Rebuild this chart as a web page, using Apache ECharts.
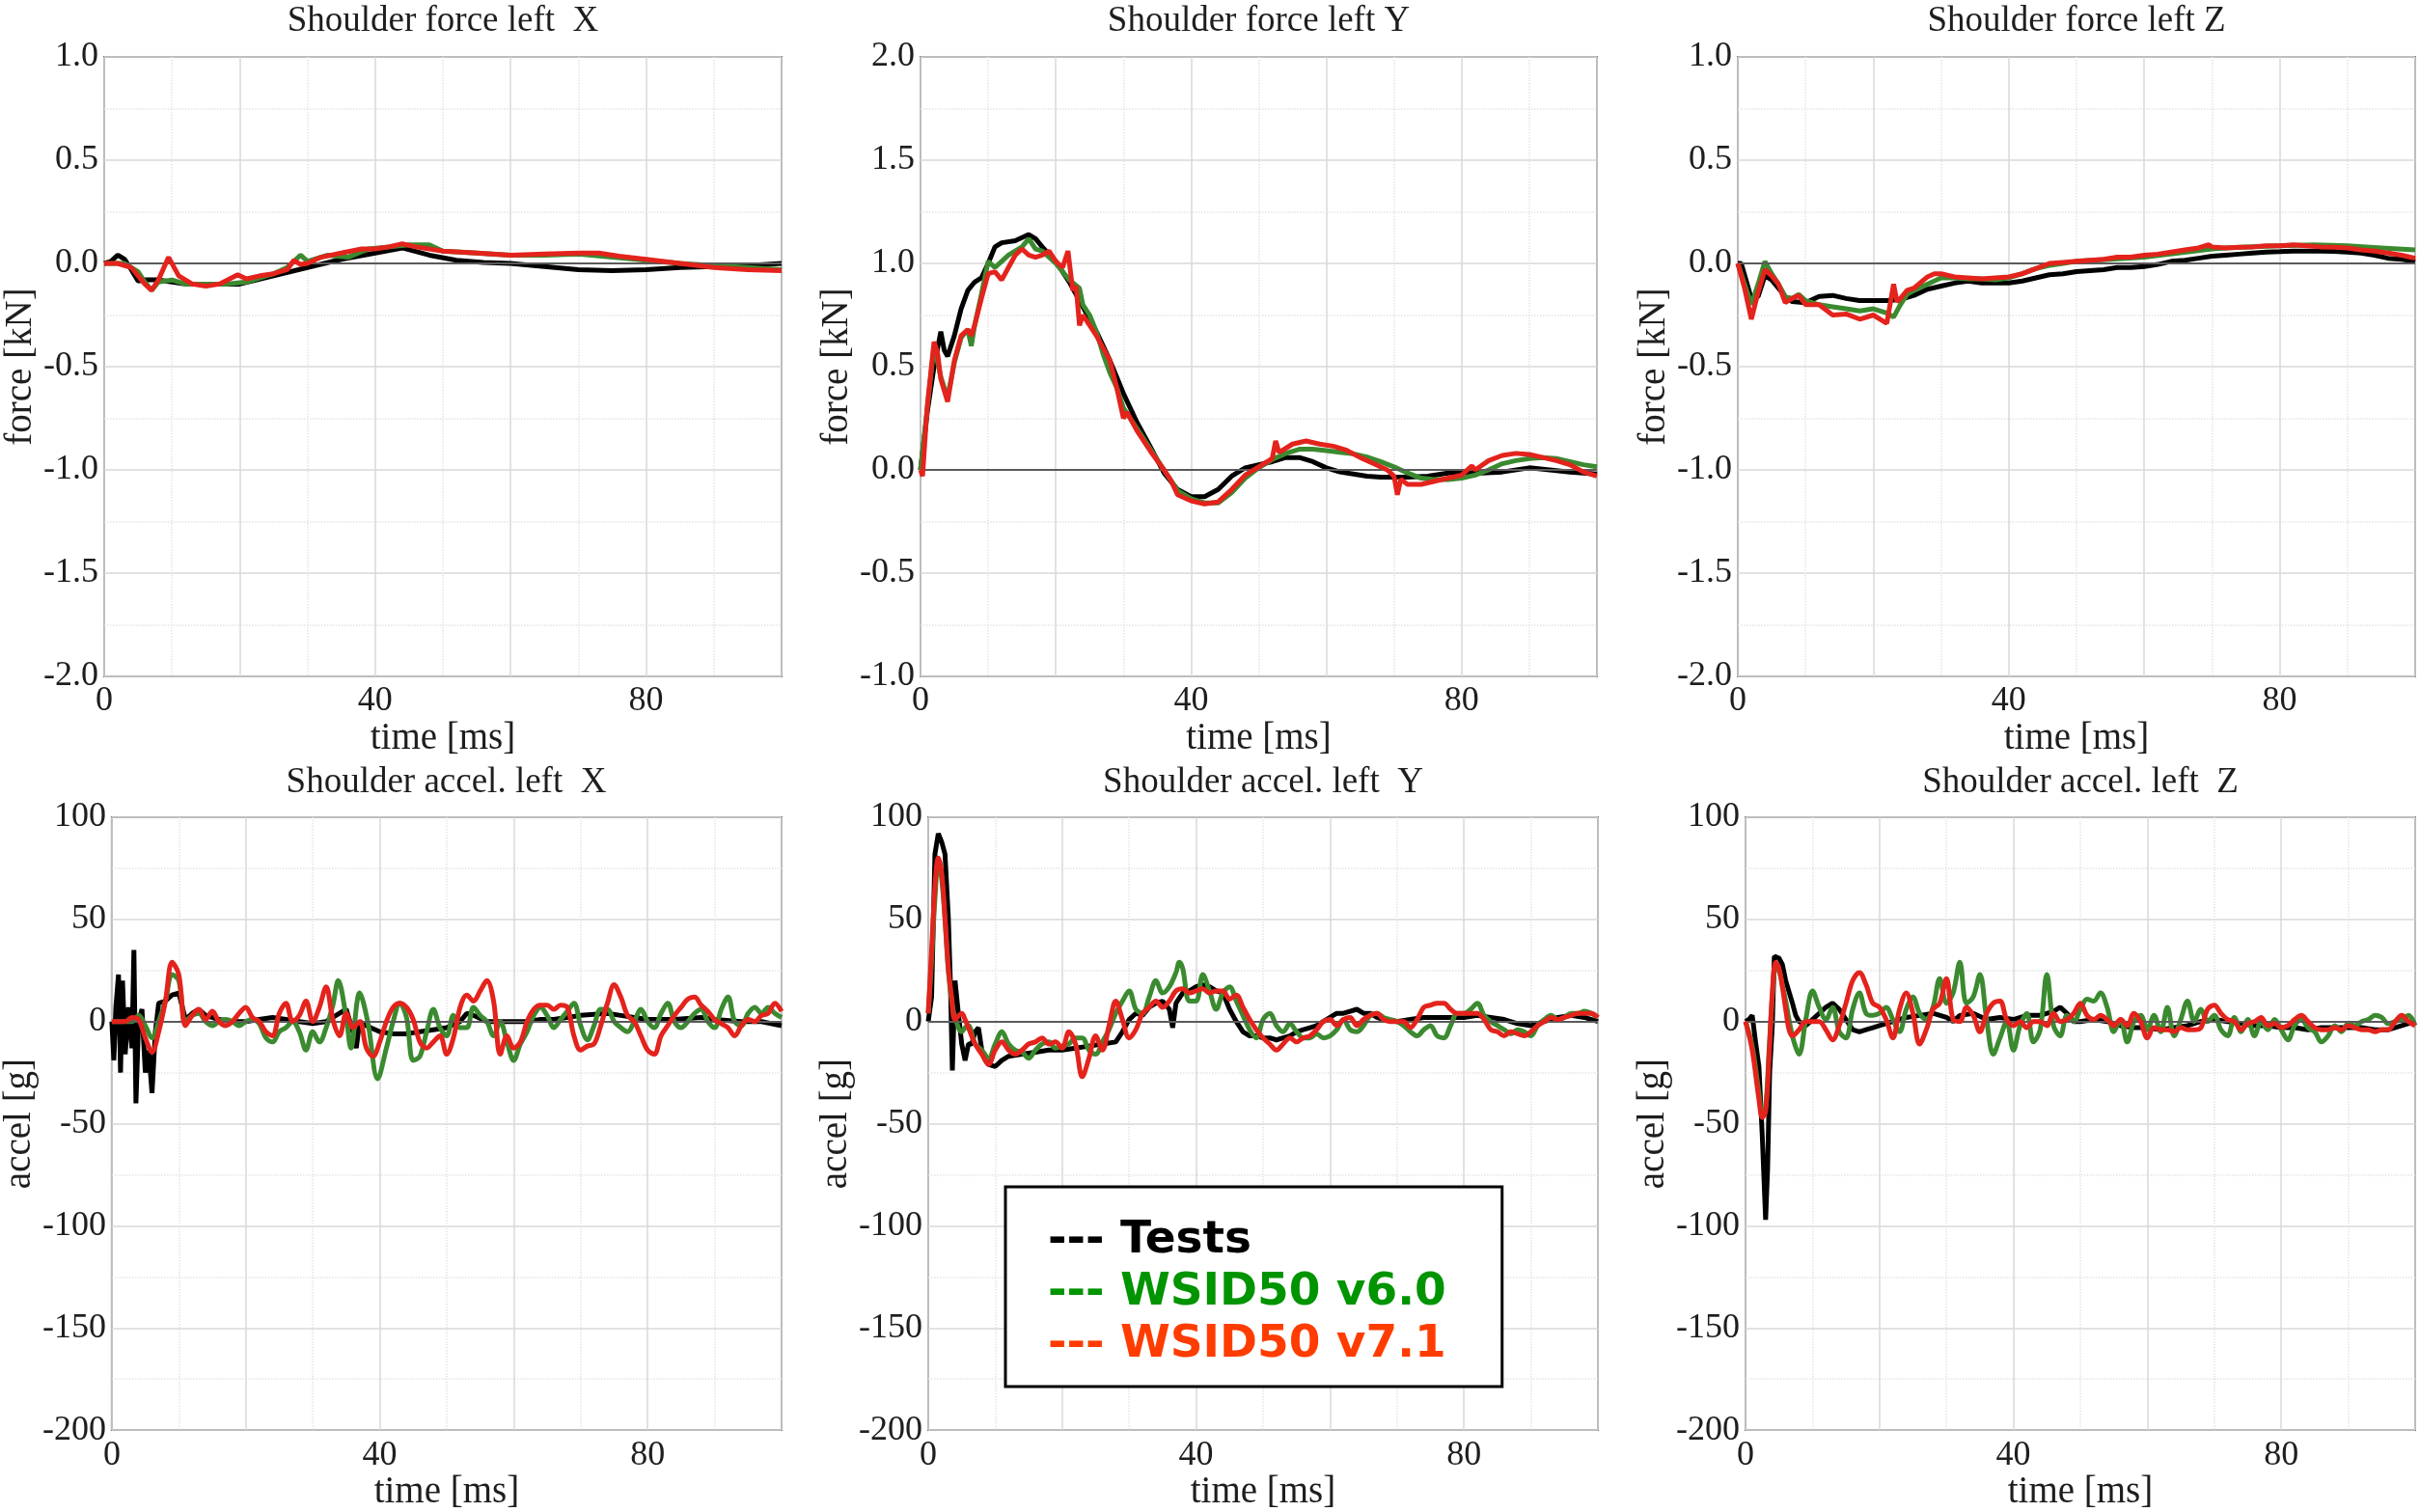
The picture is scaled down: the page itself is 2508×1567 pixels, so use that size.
<!DOCTYPE html>
<html><head><meta charset="utf-8">
<script src="https://cdn.jsdelivr.net/npm/echarts/dist/echarts.min.js"></script>
<style>html,body{margin:0;padding:0;background:#fff}#c{width:2508px;height:1567px}</style>
</head><body><div id="c"></div><script>
// ---------- DATA (time [ms], value) ----------
const seriesNames = ['Tests', 'WSID50 v6.0', 'WSID50 v7.1'];
const xTickLabels = [0, 40, 80];

// Shoulder force left X [kN]
const fxTests = [[0,0],[1,0.01],[2,0.04],[3,0.02],[4,-0.03],[5,-0.085],[6,-0.08],[8,-0.08],[10,-0.09],[12,-0.1],[15,-0.1],[20,-0.1],[25,-0.06],[30,-0.02],[35,0.02],[40,0.05],[44,0.075],[48,0.04],[52,0.015],[56,0.005],[60,0],[65,-0.015],[70,-0.03],[75,-0.035],[80,-0.03],[85,-0.02],[90,-0.015],[95,-0.01],[100,0]];
const fxV60 = [[0,0],[3,0],[5,-0.04],[6,-0.09],[7,-0.13],[8,-0.09],[10,-0.08],[12,-0.1],[15,-0.1],[18,-0.1],[21,-0.09],[25,-0.05],[27,-0.02],[29,0.04],[30,0.01],[33,0.04],[36,0.03],[39,0.07],[42,0.08],[45,0.09],[48,0.09],[50,0.06],[55,0.05],[60,0.04],[65,0.04],[70,0.045],[75,0.03],[80,0.015],[85,0],[90,-0.01],[95,-0.02],[100,-0.03]];
const fxV71 = [[0,0],[2,0],[4,-0.02],[6,-0.1],[7,-0.13],[8,-0.08],[9.5,0.03],[11,-0.06],[13,-0.1],[15,-0.11],[17,-0.1],[19.7,-0.055],[21,-0.075],[23,-0.06],[25,-0.05],[27,-0.03],[28,0.015],[29,-0.005],[30,0],[32,0.03],[35,0.05],[38,0.07],[40,0.07],[42,0.08],[44,0.095],[46,0.08],[50,0.06],[55,0.05],[60,0.04],[65,0.045],[70,0.05],[73,0.05],[76,0.035],[80,0.02],[85,0],[90,-0.02],[95,-0.03],[100,-0.035]];

// Shoulder force left Y [kN]
const fyTests = [[0,0],[1,0.28],[2,0.5],[3,0.67],[3.5,0.58],[4,0.55],[5,0.65],[6,0.78],[7,0.87],[8,0.91],[9,0.93],[10,1.0],[11,1.08],[12,1.1],[14,1.11],[16,1.14],[17,1.12],[18,1.08],[20,1.01],[22,0.91],[24,0.79],[26,0.67],[28,0.53],[30,0.37],[32,0.23],[34,0.11],[36,-0.015],[38,-0.095],[40,-0.13],[42,-0.13],[44,-0.095],[46,-0.03],[48,0.01],[50,0.025],[52,0.04],[54,0.06],[56,0.06],[58,0.04],[60,0.01],[62,-0.01],[64,-0.02],[66,-0.03],[68,-0.035],[70,-0.035],[72,-0.035],[75,-0.03],[78,-0.015],[80,-0.012],[83,-0.015],[86,-0.01],[90,0.01],[93,0],[96,-0.01],[100,-0.02]];
const fyV60 = [[0,0],[1,0.3],[2,0.6],[3,0.45],[4,0.35],[5,0.52],[6,0.64],[7,0.68],[7.5,0.6],[8,0.7],[9,0.85],[10,1.01],[11,0.98],[12,1.01],[13,1.04],[14,1.06],[15,1.08],[16,1.12],[17,1.07],[18,1.06],[20,1.0],[22,0.92],[23.5,0.88],[24,0.8],[25,0.75],[26,0.67],[27,0.56],[28,0.47],[29,0.4],[30,0.3],[32,0.2],[34,0.1],[36,0],[38,-0.1],[40,-0.14],[42,-0.16],[44,-0.16],[46,-0.11],[48,-0.04],[50,0.01],[52,0.05],[54,0.08],[56,0.1],[58,0.1],[60,0.093],[62,0.085],[64,0.078],[66,0.062],[68,0.04],[70,0.015],[72,-0.015],[74,-0.04],[76,-0.047],[78,-0.047],[80,-0.04],[82,-0.025],[84,0],[86,0.03],[88,0.045],[90,0.055],[92,0.06],[94,0.055],[96,0.04],[98,0.025],[100,0.015]];
const fyV71 = [[0,0],[0.3,-0.03],[1,0.31],[2,0.62],[2.5,0.57],[3,0.44],[4,0.33],[5,0.53],[6,0.65],[7,0.68],[7.5,0.65],[8,0.7],[9,0.83],[10,0.95],[11,0.96],[12,0.92],[13,0.98],[14,1.04],[15,1.07],[16,1.04],[17,1.03],[18,1.04],[19,1.06],[20,1.01],[21,0.98],[21.8,1.06],[22.5,0.87],[23,0.89],[23.5,0.7],[24,0.75],[26,0.65],[28,0.53],[29,0.4],[30,0.25],[30.5,0.28],[32,0.19],[34,0.09],[36,0],[37,-0.05],[38,-0.12],[40,-0.15],[42,-0.165],[44,-0.155],[46,-0.095],[48,-0.025],[50,0.015],[52,0.055],[52.5,0.14],[53,0.085],[55,0.125],[57,0.14],[59,0.125],[61,0.115],[63,0.095],[65,0.06],[67,0.03],[69,0],[70,-0.03],[70.5,-0.12],[71,-0.045],[72,-0.07],[74,-0.07],[76,-0.055],[78,-0.04],[80,-0.025],[81.5,0.02],[82,0],[84,0.045],[86,0.07],[88,0.08],[90,0.075],[92,0.06],[94,0.045],[96,0.025],[98,-0.01],[100,-0.03]];

// Shoulder force left Z [kN]
const fzTests = [[0,0],[0.5,0],[2,-0.17],[3,-0.16],[4,-0.06],[5,-0.08],[6,-0.12],[7,-0.16],[8,-0.185],[10,-0.19],[12,-0.16],[14,-0.155],[16,-0.17],[18,-0.18],[20,-0.18],[22,-0.18],[24,-0.175],[26,-0.155],[28,-0.125],[30,-0.11],[32,-0.095],[34,-0.085],[36,-0.095],[38,-0.095],[40,-0.095],[42,-0.085],[44,-0.07],[46,-0.055],[48,-0.05],[50,-0.04],[52,-0.035],[54,-0.03],[56,-0.02],[58,-0.02],[60,-0.015],[62,-0.005],[64,0.01],[66,0.015],[68,0.025],[70,0.035],[72,0.04],[74,0.045],[76,0.05],[78,0.055],[80,0.057],[82,0.06],[84,0.06],[86,0.06],[88,0.058],[90,0.055],[92,0.05],[94,0.04],[96,0.025],[98,0.02],[100,0.01]];
const fzV60 = [[0,0],[1,-0.1],[2,-0.2],[3,-0.1],[4,0.01],[5,-0.05],[6,-0.1],[7,-0.16],[8,-0.17],[9,-0.15],[10,-0.18],[12,-0.2],[14,-0.21],[16,-0.22],[18,-0.23],[20,-0.22],[22,-0.24],[23,-0.26],[24,-0.2],[25,-0.15],[26,-0.13],[28,-0.1],[30,-0.07],[32,-0.07],[34,-0.075],[36,-0.075],[38,-0.08],[40,-0.07],[42,-0.05],[44,-0.025],[46,-0.01],[48,0],[50,0.01],[55,0.02],[60,0.03],[65,0.05],[70,0.07],[72,0.075],[75,0.08],[80,0.085],[85,0.09],[90,0.085],[95,0.075],[100,0.065]];
const fzV71 = [[0,0],[1,-0.12],[2,-0.27],[3,-0.14],[4,-0.03],[5,-0.06],[6,-0.1],[7,-0.19],[8,-0.17],[9,-0.155],[10,-0.2],[12,-0.2],[14,-0.25],[16,-0.245],[18,-0.27],[20,-0.25],[21,-0.27],[22,-0.29],[23,-0.1],[23.5,-0.185],[24,-0.17],[25,-0.13],[26,-0.12],[28,-0.065],[29,-0.05],[30,-0.05],[32,-0.065],[34,-0.07],[36,-0.075],[38,-0.07],[40,-0.065],[42,-0.05],[44,-0.025],[46,0],[48,0.005],[50,0.01],[52,0.015],[54,0.02],[56,0.03],[58,0.03],[60,0.04],[62,0.045],[64,0.055],[66,0.065],[68,0.075],[69.5,0.09],[70,0.08],[72,0.075],[74,0.078],[76,0.08],[78,0.085],[80,0.085],[82,0.09],[84,0.085],[86,0.08],[88,0.078],[90,0.075],[92,0.065],[94,0.06],[96,0.05],[98,0.04],[100,0.025]];

// Shoulder accel. left X [g]
const axTests = [[0,0],[0.3,-19],[0.6,7],[1,23],[1.3,-25],[1.6,20],[2,-16],[2.5,7],[3,-13],[3.3,35],[3.6,-40],[4,0],[4.5,6],[5,-25],[5.5,-14],[6,-35],[6.5,-5],[7,9],[8,10],[9,13],[10,14],[11,1],[12,4],[13,6],[14,3],[16,1],[18,0],[20,0],[22,1],[24,2],[26,1],[28,0],[30,-1],[32,0],[34,4],[35,6],[36,-5],[36.5,-13],[37,0],[38,-2],[40,-5],[42,-6],[44,-6],[46,-5],[48,-4],[50,-3],[52,0],[53,4],[54,3],[56,0],[58,0],[60,0],[62,0],[64,1],[66,1],[68,2],[70,3],[72,3.5],[74,4],[76,3],[78,2],[80,1],[84,1],[88,2],[90,1],[94,0],[97,0],[100,-2]];
const axV60 = [[0,0],[3,0],[4,3],[5,-2],[6,-8],[7,0],[8,10],[9,23],[10,20],[11,0],[12,3],[13,4],[14,0],[15,-2],[16,0],[17,1],[18,0],[19,-2],[20,0],[21,1],[22,-1],[23,-8],[24,-10],[25,-5],[26,-3],[27,0],[28,-5],[29,-14],[30,-5],[31,-10],[32,-3],[33,8],[33.8,20],[35,2],[35.7,-13],[37,14],[38.2,0],[39.7,-28],[41,-13],[42,0],[43,9],[44,2],[45,-19],[46,-17],[47,-5],[48,6],[49,-3],[50,-7],[51,3],[52,-3],[53,-3],[54,7],[55,3],[56,0],[57,-7],[58,0],[59,-10],[60,-19],[61,-11],[62,-5],[63,3],[64,7],[65,3],[66,-3],[67,1],[68,5],[69,9],[70,-2],[71,-9],[72,-2],[73,6],[74,6],[75,0],[76,-3],[77,-5],[78,0],[79,6],[80,0],[81,-3],[82,4],[83,9],[84,0],[85,-3],[86,0],[87,4],[88,6],[89,0],[90,-3],[91,6],[92,12],[93,0],[94,-2],[95,4],[96,7],[97,4],[98,7],[99,4],[100,2]];
const axV71 = [[0,0],[1,0],[2,0],[3,2],[4,1],[5,-8],[6,-15],[7,-5],[8,10],[9,29],[10,23],[11,-2],[12,3],[13,6],[14,1],[15,5],[16,0],[17,-2],[18,0],[19,4],[20,7],[21,2],[22,0],[23,-5],[24,-7],[25,4],[26,9],[27,0],[28,3],[29,10],[30,0],[31,7],[32,17],[33,1],[34,-7],[35,4],[36,-3],[37,0],[38,-13],[39,-17],[40,-10],[41,0],[42,7],[43,9],[44,7],[45,1],[46,-10],[47,-13],[48,-10],[49,-7],[50,-16],[51,-8],[52,7],[53,13],[54,10],[55,15],[56,20],[57,10],[58,-16],[59,-7],[60,-13],[61,-10],[62,0],[63,6],[64,8],[65,8],[66,6],[67,8],[68,7],[69,-7],[70,-14],[71,-12],[72,-11],[73,-2],[74,9],[75,18],[76,12],[77,3],[78,0],[79,-7],[80,-14],[81,-16],[82,-7],[83,-2],[84,3],[85,7],[86,11],[87,12],[88,8],[89,5],[90,1],[91,-1],[92,-3],[93,-7],[94,-2],[95,1],[96,0],[97,3],[98,4],[99,9],[100,5]];

// Shoulder accel. left Y [g]
const ayTests = [[0,0],[0.5,12],[1,82],[1.5,92],[2,88],[2.5,82],[3,51],[3.3,20],[3.6,-24],[4,20],[4.5,4],[5,-11],[5.5,-19],[6,-11],[6.5,-11],[7,-5],[7.5,-3],[8,-14],[9,-21],[10,-22],[11,-19],[12,-17],[14,-16],[16,-15],[18,-14],[20,-14],[22,-13],[24,-12],[26,-11],[28,-10],[29,-5],[30,1],[31,4],[32,3],[33,7],[34,9],[35,10],[36,6],[36.5,-3],[37,9],[38,14],[39,15],[40,17],[41,18],[42,17],[43,15],[44,14],[45,6],[46,0],[47,-5],[48,-7],[49,-7],[50,-8],[51,-8],[52,-9],[53,-8],[54,-7],[55,-5],[56,-4],[57,-3],[58,-2],[59,0],[60,2],[61,4],[62,4],[63,5],[64,6],[65,4],[66,4],[67,2],[68,1],[70,0],[72,1],[74,2],[76,2],[78,2],[80,2],[82,3],[84,2],[86,1],[88,-1],[90,-2],[92,0],[94,2],[96,3],[98,2],[100,0]];
const ayV60 = [[0,4],[0.5,30],[1,60],[1.5,78],[2,70],[2.5,50],[3,25],[3.5,10],[4,2],[5,-5],[5.5,-3],[6,-2],[7,-11],[8,-14],[9,-18],[10,-11],[11,-5],[12,-11],[13,-14],[14,-15],[15,-18],[16,-14],[17,-11],[18,-10],[19,-13],[20,-12],[21,-11],[22,-8],[23,-8],[24,-14],[25,-16],[26,-10],[27,-4],[28,4],[29,10],[30,15],[31,6],[32,4],[33,12],[34,20],[35,14],[36,17],[37,24],[37.5,29],[38,26],[39,10],[40,10],[41,23],[42,15],[43,6],[44,14],[45,17],[46,10],[47,3],[48,-4],[49,-8],[50,1],[51,4],[52,-2],[53,-5],[54,-1],[55,-5],[56,-8],[57,-8],[58,-6],[59,-8],[60,-7],[61,-4],[62,1],[63,-4],[64,-5],[65,-2],[66,3],[67,4],[68,2],[69,1],[70,0],[71,-2],[72,-5],[73,-7],[74,-4],[75,-2],[76,-7],[77,-8],[78,-2],[79,4],[80,4],[81,6],[82,9],[83,3],[84,0],[85,-2],[86,-4],[87,-6],[88,-4],[89,-5],[90,-7],[91,-2],[92,1],[93,3],[94,1],[95,2],[96,4],[97,4],[98,5],[99,4],[100,2]];
const ayV71 = [[0,4],[0.5,35],[1,66],[1.5,80],[2,73],[2.5,51],[3,26],[3.5,12],[4,1],[5,4],[5.5,1],[6,-3],[7,-11],[8,-16],[9,-21],[10,-14],[11,-10],[12,-14],[13,-16],[14,-14],[15,-11],[16,-10],[17,-8],[18,-11],[19,-10],[20,-13],[21,-5],[22,-11],[23,-27],[24,-18],[25,-7],[26,-14],[27,-2],[28,10],[29,1],[30,-8],[31,-4],[32,4],[33,7],[34,10],[35,7],[36,10],[37,15],[38,16],[39,14],[40,15],[41,16],[42,14],[43,15],[44,15],[45,11],[46,13],[47,7],[48,1],[49,-4],[50,-8],[51,-11],[52,-14],[53,-11],[54,-8],[55,-10],[56,-8],[57,-7],[58,-4],[59,0],[60,1],[61,-2],[62,1],[63,2],[64,-2],[65,1],[66,3],[67,4],[68,1],[69,0],[70,0],[71,0],[72,-3],[73,1],[74,7],[75,8],[76,9],[77,9],[78,6],[79,4],[80,4],[81,4],[82,4],[83,1],[84,-4],[85,-5],[86,-7],[87,-5],[88,-6],[89,-7],[90,-5],[91,-2],[92,0],[93,2],[94,1],[95,2],[96,3],[97,4],[98,4],[99,4],[100,2]];

// Shoulder accel. left Z [g]
const azTests = [[0,0],[0.5,1],[1,3],[1.5,-10],[2,-22],[2.5,-56],[3,-97],[3.3,-72],[3.6,-25],[4,-2],[4.3,32],[5,31],[5.5,28],[6,20],[7,9],[7.5,3],[8,0],[9,-2],[10,1],[11,4],[12,7],[13,9],[14,6],[15,1],[16,-4],[17,-5],[18,-4],[19,-3],[20,-2],[22,0],[24,2],[26,3],[28,4],[30,2],[31,0],[32,3],[34,4],[36,1],[38,2],[40,1],[42,3],[44,3],[46,5],[47,7],[48,4],[49,0],[50,0],[52,1],[54,0],[56,-2],[58,-3],[60,-3],[62,-4],[64,-3],[66,-2],[68,0],[70,1],[72,0],[74,-1],[76,-2],[78,-2],[80,-3],[82,-3],[84,-4],[86,-3],[88,-3],[90,-3],[92,-3],[94,-4],[96,-4],[98,-2],[100,0]];
const azV60 = [[0,0],[1,-12],[2,-35],[2.5,-45],[3,-42],[3.5,-15],[4,12],[4.5,26],[5,25],[5.5,18],[6,10],[7,-7],[8,-16],[9,1],[10,15],[11,7],[12,1],[13,7],[14,-5],[15,-8],[16,6],[17,14],[18,4],[19,3],[20,4],[21,7],[22,1],[23,-5],[24,6],[25,12],[26,4],[27,1],[28,7],[29,21],[30,9],[31,14],[32,29],[33,9],[34,12],[35,23],[36,1],[37,-16],[38,-8],[39,0],[40,-14],[41,-2],[42,4],[43,-10],[44,-4],[45,23],[46,-2],[47,-7],[48,3],[49,0],[50,6],[51,11],[52,10],[53,14],[54,7],[55,-5],[56,1],[57,-10],[58,0],[59,3],[60,-4],[61,3],[62,-5],[63,7],[64,-7],[65,1],[66,10],[67,0],[68,6],[69,0],[70,3],[71,-4],[72,-7],[73,2],[74,-5],[75,1],[76,-7],[77,0],[78,-4],[79,1],[80,-4],[81,-9],[82,-2],[83,1],[84,-3],[85,-5],[86,-10],[87,-7],[88,-2],[89,-5],[90,-1],[91,-2],[92,0],[93,1],[94,3],[95,2],[96,-1],[97,0],[98,1],[99,3],[100,-2]];
const azV71 = [[0,0],[1,-14],[2,-38],[2.5,-47],[3,-44],[3.5,-18],[4,14],[4.5,29],[5,26],[5.5,17],[6,6],[6.5,-4],[7,-7],[8,-4],[9,0],[10,0],[11,0],[12,-4],[13,-9],[14,-2],[15,9],[16,20],[17,24],[18,18],[19,9],[20,7],[21,1],[22,-8],[23,6],[24,14],[25,4],[26,-11],[27,-4],[28,6],[29,9],[30,21],[31,1],[32,0],[33,7],[34,3],[35,-5],[36,4],[37,9],[38,10],[39,1],[40,-2],[41,0],[42,-3],[43,0],[44,0],[45,-2],[46,4],[47,0],[48,1],[49,4],[50,9],[51,3],[52,1],[53,3],[54,1],[55,-2],[56,1],[57,-2],[58,4],[59,0],[60,-8],[61,-3],[62,-4],[63,-4],[64,-5],[65,-3],[66,-4],[67,-4],[68,-3],[69,6],[70,8],[71,4],[72,1],[73,0],[74,-4],[75,-1],[76,0],[77,2],[78,-2],[79,-1],[80,-3],[81,-2],[82,1],[83,3],[84,0],[85,-3],[86,-4],[87,-4],[88,-3],[89,-4],[90,-2],[91,-3],[92,-4],[93,-4],[94,-5],[95,-4],[96,-4],[97,0],[98,3],[99,0],[100,-2]];

const panelTitles = ['Shoulder force left  X', 'Shoulder force left Y', 'Shoulder force left Z',
                     'Shoulder accel. left  X', 'Shoulder accel. left  Y', 'Shoulder accel. left  Z'];
const yNames = ['force [kN]', 'force [kN]', 'force [kN]', 'accel [g]', 'accel [g]', 'accel [g]'];
const yRanges = [[-2, 1, 0.5], [-1, 2, 0.5], [-2, 1, 0.5], [-200, 100, 50], [-200, 100, 50], [-200, 100, 50]];
const panelData = [
  [fxTests, fxV60, fxV71], [fyTests, fyV60, fyV71], [fzTests, fzV60, fzV71],
  [axTests, axV60, axV71], [ayTests, ayV60, ayV71], [azTests, azV60, azV71]
];

// ---------- LAYOUT / STYLE ----------
const gridBoxes = [
  {left:108, top:59, width:702, height:642},
  {left:954, top:59, width:701, height:642},
  {left:1801, top:59, width:702, height:642},
  {left:115, top:847, width:695, height:644},
  {left:962, top:847, width:694, height:644},
  {left:1809, top:847, width:694, height:644}
];
const lineColors = ['#000000', '#3b8a30', '#e3231c'];
const legendColors = ['#000000', '#009400', '#ff3c00'];
const serif = 'Liberation Serif';
const txt = '#1e1e1e';

const option = {
  animation: false,
  backgroundColor: '#ffffff',
  title: [], grid: [], xAxis: [], yAxis: [], series: [],
  legend: {
    orient: 'vertical', left: 1042, top: 1230,
    icon: 'none', itemWidth: 0, itemHeight: 47, itemGap: 7,
    selectedMode: false,
    padding: [32, 58, 20, 39],
    borderColor: '#000', borderWidth: 3, backgroundColor: '#fff',
    formatter: n => '--- ' + n,
    textStyle: {fontFamily: 'DejaVu Sans', fontWeight: 'bold', fontSize: 47, lineHeight: 47},
    data: seriesNames.map((n, i) => ({name: n, textStyle: {color: legendColors[i]}}))
  }
};

gridBoxes.forEach((g, i) => {
  const [ymin, ymax, step] = yRanges[i];
  const isForce = i < 3;
  option.title.push({
    text: panelTitles[i], left: g.left + g.width / 2, top: isForce ? 4 : 793,
    textAlign: 'center', padding: 0,
    textStyle: {fontFamily: serif, fontWeight: 'normal', fontSize: 37, color: txt}
  });
  option.grid.push(Object.assign({show: true, borderColor: '#6e6e6e', borderWidth: 2, backgroundColor: '#fff'}, g));
  option.xAxis.push({
    type: 'value', gridIndex: i, min: 0, max: 100, interval: 20,
    name: 'time [ms]', nameLocation: 'middle', nameGap: 42,
    nameTextStyle: {fontFamily: serif, fontSize: 39, color: txt},
    axisLine: {show: false}, axisTick: {show: false},
    axisLabel: {fontFamily: serif, fontSize: 36, color: txt, margin: 8,
      formatter: v => xTickLabels.includes(v) ? String(v) : ''},
    splitLine: {show: true, lineStyle: {color: '#d9d9d9', width: 1.5}},
    minorTick: {show: false, splitNumber: 2},
    minorSplitLine: {show: true, lineStyle: {color: '#e3e3e3', width: 1.5, type: 'dotted'}}
  });
  option.yAxis.push({
    type: 'value', gridIndex: i, min: ymin, max: ymax, interval: step,
    name: yNames[i], nameLocation: 'middle', nameGap: isForce ? 66 : 74,
    nameTextStyle: {fontFamily: serif, fontSize: 39, color: txt},
    axisLine: {show: false}, axisTick: {show: false},
    axisLabel: {fontFamily: serif, fontSize: 36, color: txt, margin: 6,
      formatter: v => isForce ? v.toFixed(1) : String(Math.round(v))},
    splitLine: {show: true, lineStyle: {color: '#d9d9d9', width: 1.5}},
    minorTick: {show: false, splitNumber: 2},
    minorSplitLine: {show: true, lineStyle: {color: '#e3e3e3', width: 1.5, type: 'dotted'}}
  });
  panelData[i].forEach((d, k) => {
    const s = {
      name: seriesNames[k], type: 'line', xAxisIndex: i, yAxisIndex: i,
      data: d, showSymbol: false, symbol: 'none', z: 3 + k,
      smooth: (!isForce && k > 0) ? 0.35 : false,
      lineStyle: {color: lineColors[k], width: 5},
      itemStyle: {color: lineColors[k]}
    };
    if (k === 0) {
      s.markLine = {silent: true, symbol: 'none', label: {show: false}, animation: false,
        lineStyle: {color: '#5a5a5a', width: 2, type: 'solid'}, data: [{yAxis: 0}]};
    }
    option.series.push(s);
  });
});

const chart = echarts.init(document.getElementById('c'));
chart.setOption(option);
</script></body></html>
